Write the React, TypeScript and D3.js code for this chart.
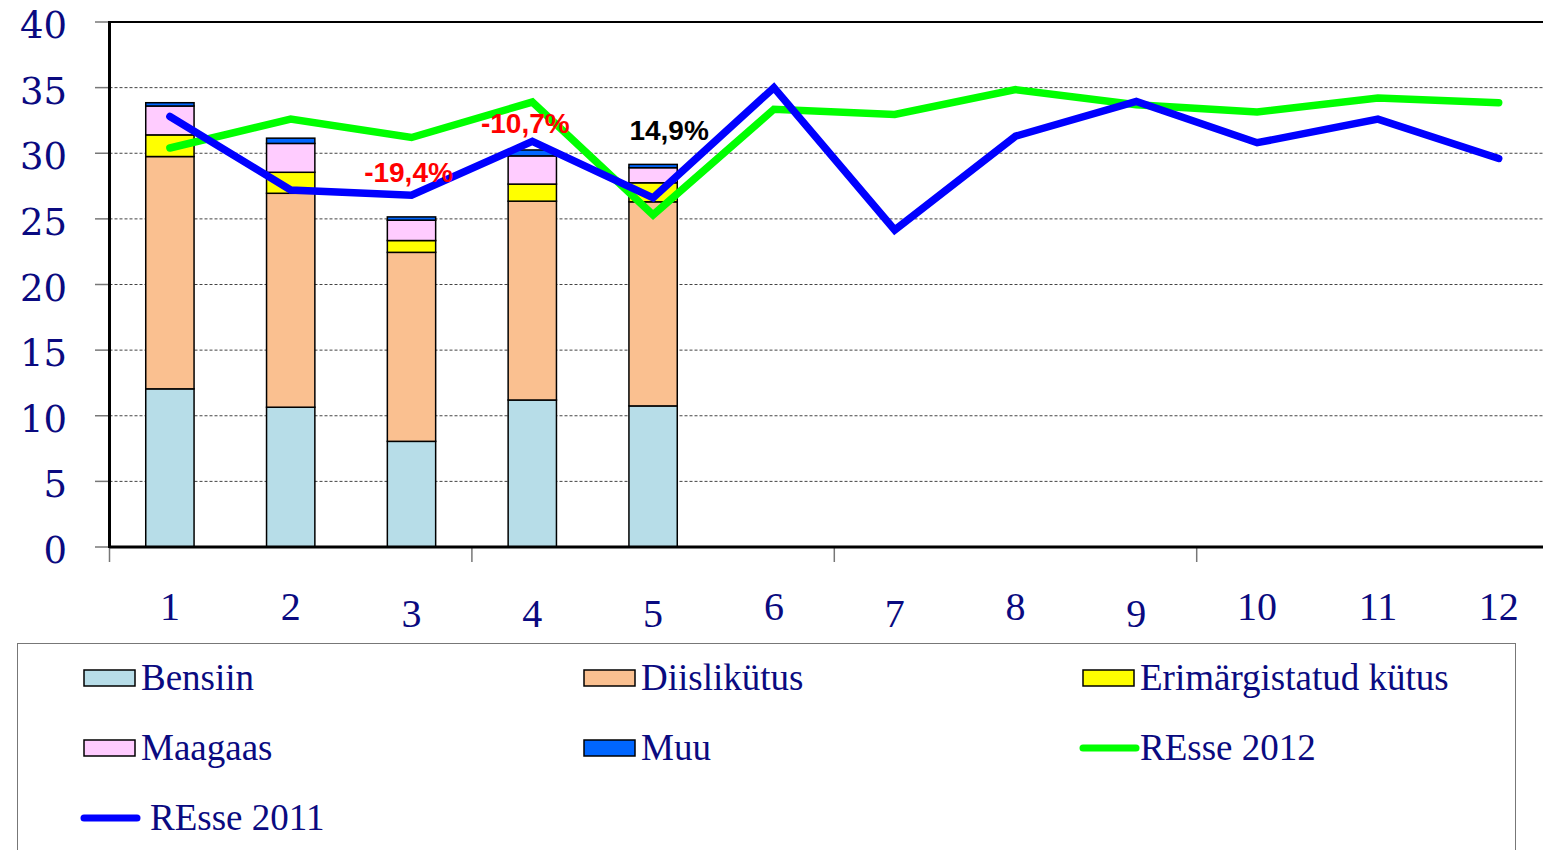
import React, { useEffect, useRef } from 'react';
import * as d3 from 'd3';

// months on the x axis
const months = ['1', '2', '3', '4', '5', '6', '7', '8', '9', '10', '11', '12'];

// stacked bars (only first five months have data)
const bensiin = [12.05, 10.65, 8.05, 11.2, 10.75];
const diislikytus = [17.7, 16.3, 14.4, 15.15, 15.55];
const erimargistatud = [1.65, 1.6, 0.9, 1.3, 1.45];
const maagaas = [2.2, 2.2, 1.55, 2.15, 1.15];
const muu = [0.25, 0.4, 0.25, 0.45, 0.25];

// lines
const resse2011 = [32.8, 27.2, 26.8, 30.9, 26.6, 35.0, 24.15, 31.3, 33.95, 30.8, 32.6, 29.6];
const resse2012 = [30.4, 32.6, 31.2, 33.9, 25.3, 33.35, 32.95, 34.85, 33.7, 33.15, 34.2, 33.85];

const yTicks = [0, 5, 10, 15, 20, 25, 30, 35, 40];

// percentage notes: month, value where the baseline sits, shift in px
const notes = [
  { month: '3', value: 27.8, dx: -3, text: '-19,4%', color: '#ff0000' },
  { month: '4', value: 31.55, dx: -7, text: '-10,7%', color: '#ff0000' },
  { month: '5', value: 31.0, dx: 16, text: '14,9%', color: '#000000' },
];

const barKeys = ['Bensiin', 'Diislikütus', 'Erimärgistatud kütus', 'Maagaas', 'Muu'];
const barColors = ['#b7dde8', '#fac090', '#ffff00', '#ffccff', '#0066ff'];
const navy = '#0a0a80';

export default function App() {
  const svgRef = useRef<SVGSVGElement>(null);

  useEffect(() => {
    const W = 1543, H = 850;
    const svg = d3.select(svgRef.current).attr('width', W).attr('height', H);
    svg.selectAll('*').remove();

    const left = 109.5, top = 22, bottom = 547;
    const plotRight = left + 12 * 120.8;

    const x = d3.scaleBand().domain(months).range([left, plotRight]).paddingInner(0).paddingOuter(0);
    const y = d3.scaleLinear().domain([0, 40]).range([bottom, top]);

    // grid lines
    svg.append('g')
      .selectAll('line')
      .data(yTicks.filter(t => t > 0 && t < 40))
      .join('line')
        .attr('x1', left).attr('x2', W)
        .attr('y1', d => y(d)).attr('y2', d => y(d))
        .attr('stroke', '#444')
        .attr('stroke-width', 1)
        .attr('stroke-dasharray', '3,2');

    // y tick marks
    svg.append('g')
      .selectAll('line')
      .data(yTicks)
      .join('line')
        .attr('x1', 95).attr('x2', left)
        .attr('y1', d => y(d)).attr('y2', d => y(d))
        .attr('stroke', '#777')
        .attr('stroke-width', 1.5);

    // x tick marks every 3 months
    svg.append('g')
      .selectAll('line')
      .data([0, 3, 6, 9])
      .join('line')
        .attr('x1', i => left + i * x.bandwidth()).attr('x2', i => left + i * x.bandwidth())
        .attr('y1', bottom).attr('y2', 562)
        .attr('stroke', '#777')
        .attr('stroke-width', 1.5);

    // stacked bars
    const rows = bensiin.map((_, i) => ({
      month: months[i],
      'Bensiin': bensiin[i],
      'Diislikütus': diislikytus[i],
      'Erimärgistatud kütus': erimargistatud[i],
      'Maagaas': maagaas[i],
      'Muu': muu[i],
    }));
    const stack = d3.stack<any>().keys(barKeys)(rows);
    const barW = x.bandwidth() * 0.4;

    const layers = svg.append('g')
      .selectAll('g')
      .data(stack)
      .join('g')
        .attr('fill', (_, i) => barColors[i]);
    layers.selectAll('rect')
      .data(d => d)
      .join('rect')
        .attr('x', d => x(d.data.month)! + (x.bandwidth() - barW) / 2)
        .attr('width', barW)
        .attr('y', d => y(d[1]))
        .attr('height', d => y(d[0]) - y(d[1]))
        .attr('stroke', '#000')
        .attr('stroke-width', 1.5);

    // frame: top border, left axis, bottom axis
    svg.append('line')
      .attr('x1', left).attr('x2', W).attr('y1', top).attr('y2', top)
      .attr('stroke', '#000').attr('stroke-width', 2);
    svg.append('line')
      .attr('x1', left).attr('x2', left).attr('y1', top - 1).attr('y2', bottom + 1)
      .attr('stroke', '#000').attr('stroke-width', 3);
    svg.append('line')
      .attr('x1', left).attr('x2', W).attr('y1', bottom).attr('y2', bottom)
      .attr('stroke', '#000').attr('stroke-width', 3);

    // lines
    const line = d3.line<number>()
      .x((_, i) => x(months[i])! + x.bandwidth() / 2)
      .y(d => y(d));

    svg.append('path')
      .datum(resse2012)
      .attr('d', line)
      .attr('fill', 'none')
      .attr('stroke', '#00ff00')
      .attr('stroke-width', 7.5)
      .attr('stroke-linecap', 'round');

    svg.append('path')
      .datum(resse2011)
      .attr('d', line)
      .attr('fill', 'none')
      .attr('stroke', '#0000ff')
      .attr('stroke-width', 7.5)
      .attr('stroke-linecap', 'round');

    // y axis labels
    svg.append('g')
      .selectAll('text')
      .data(yTicks)
      .join('text')
        .attr('x', 67)
        .attr('y', d => y(d) + 16)
        .attr('text-anchor', 'end')
        .style('font-family', "'DejaVu Serif'")
        .attr('font-size', 37)
        .attr('fill', navy)
        .text(d => d);

    // x axis labels (old style figures drop 3,4,5,7,9 a little)
    const drop = new Set(['3', '4', '5', '7', '9']);
    svg.append('g')
      .selectAll('text')
      .data(months)
      .join('text')
        .attr('x', d => x(d)! + x.bandwidth() / 2)
        .attr('y', d => 620 + (drop.has(d) ? 7 : 0))
        .attr('text-anchor', 'middle')
        .attr('font-family', '"Liberation Serif", serif')
        .attr('font-size', 40)
        .attr('fill', navy)
        .text(d => d);

    // percentage notes
    svg.append('g')
      .selectAll('text')
      .data(notes)
      .join('text')
        .attr('x', d => x(d.month)! + x.bandwidth() / 2 + d.dx)
        .attr('y', d => y(d.value))
        .attr('text-anchor', 'middle')
        .attr('font-family', '"Liberation Sans", Arial, sans-serif')
        .attr('font-weight', 'bold')
        .attr('font-size', 28)
        .attr('fill', d => d.color)
        .text(d => d.text);

    // legend
    svg.append('rect')
      .attr('x', 17.5).attr('y', 643.5)
      .attr('width', 1498).attr('height', 230)
      .attr('fill', '#fff')
      .attr('stroke', '#777')
      .attr('stroke-width', 1);

    const legendItems = [
      { label: barKeys[0], kind: 'bar', color: barColors[0] },
      { label: barKeys[1], kind: 'bar', color: barColors[1] },
      { label: barKeys[2], kind: 'bar', color: barColors[2] },
      { label: barKeys[3], kind: 'bar', color: barColors[3] },
      { label: barKeys[4], kind: 'bar', color: barColors[4] },
      { label: 'REsse 2012', kind: 'line', color: '#00ff00' },
      { label: 'REsse 2011', kind: 'line', color: '#0000ff' },
    ];
    const colX = [84, 584, 1083];
    const rowY = [678, 748, 818];

    const items = svg.append('g')
      .selectAll('g')
      .data(legendItems)
      .join('g')
        .attr('transform', (_, i) => `translate(${colX[i % 3]},${rowY[Math.floor(i / 3)]})`);

    items.filter(d => d.kind === 'bar')
      .append('rect')
        .attr('x', 0).attr('y', -8)
        .attr('width', 51).attr('height', 16)
        .attr('fill', d => d.color)
        .attr('stroke', '#000')
        .attr('stroke-width', 1.5);

    items.filter(d => d.kind === 'line')
      .append('line')
        .attr('x1', 0).attr('x2', 53)
        .attr('y1', 0).attr('y2', 0)
        .attr('stroke', d => d.color)
        .attr('stroke-width', 7)
        .attr('stroke-linecap', 'round');

    items.append('text')
      .attr('x', d => (d.label === 'REsse 2011' ? 66 : 57))
      .attr('y', 12)
      .attr('font-family', '"Liberation Serif", serif')
      .attr('font-size', 37)
      .attr('fill', navy)
      .text(d => d.label);
  }, []);

  return (
    <div style={{ position: 'fixed', left: 0, top: 0, width: 1543, height: 850, background: '#fff', overflow: 'hidden' }}>
      <svg ref={svgRef} style={{ display: 'block' }} />
    </div>
  );
}
